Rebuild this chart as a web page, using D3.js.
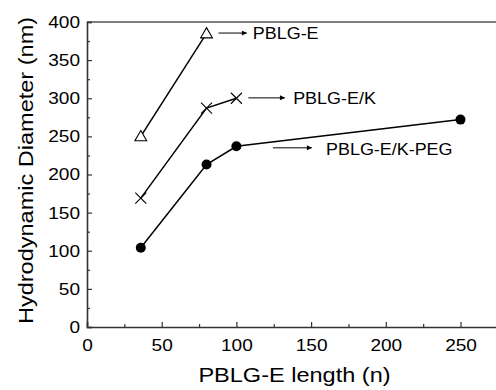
<!DOCTYPE html>
<html><head><meta charset="utf-8">
<script src="https://cdn.jsdelivr.net/npm/d3@7"></script>
<style>
html,body{margin:0;padding:0;background:#fff;}
text{font-family:"Liberation Sans",Arial,Helvetica,sans-serif;fill:#000;}
</style></head>
<body><svg id="c" width="496" height="390"></svg>
<script>
// Data
const xTicks = [0, 50, 100, 150, 200, 250];
const yTicks = [0, 50, 100, 150, 200, 250, 300, 350, 400];
const seriesNames = ["PBLG-E", "PBLG-E/K", "PBLG-E/K-PEG"];
const xE = [36, 80];
const yE = [250, 385];
const xEK = [36, 80, 100];
const yEK = [169, 287, 300];
const xEKP = [36, 80, 100, 250];
const yEKP = [104, 213, 237, 272];
// annotation arrows (data coords): x from, x to, y ; label x
const arrowX0 = [88, 108, 124.5];
const arrowX1 = [107, 132.5, 150.5];
const arrowY = [385.5, 300.5, 235];
const labelX = [111, 138, 160];
const labelY = [385.5, 300.5, 232.5];

const svg = d3.select("#c");
const x = d3.scaleLinear().domain([0, 280]).range([87, 87 + 280 * 1.494]);
const y = d3.scaleLinear().domain([0, 400]).range([327, 22]);
const STRETCH = 1.12;
function widen(sel) {
  sel.each(function () {
    const w = this.getComputedTextLength();
    d3.select(this).attr("textLength", w * STRETCH).attr("lengthAdjust", "spacingAndGlyphs");
  });
}

const axisColor = "#333";
svg.append("line").attr("x1", x(0)).attr("x2", 496).attr("y1", y(400)).attr("y2", y(400))
  .attr("stroke", "#555").attr("stroke-width", 1.6);

// x axis
const xAxis = svg.append("g").attr("transform", `translate(0,${y(0)})`)
  .call(d3.axisBottom(x).tickValues(xTicks).tickSize(-5).tickPadding(12).tickFormat(d3.format("d")));
xAxis.select(".domain").attr("stroke", axisColor).attr("stroke-width", 1.6);
xAxis.selectAll(".tick line").attr("stroke", axisColor).attr("stroke-width", 1.2);
xAxis.selectAll(".tick text").attr("font-size", 17).attr("font-family", null).attr("dy", "0.71em").call(widen);
svg.append("g").attr("transform", `translate(0,${y(0)})`)
  .call(d3.axisBottom(x).tickValues([25, 75, 125, 175, 225, 275]).tickSize(-3).tickFormat(""))
  .call(g => { g.select(".domain").remove(); g.selectAll(".tick line").attr("stroke", axisColor).attr("stroke-width", 1.2); });

// y axis
const yAxis = svg.append("g").attr("transform", `translate(${x(0)},0)`)
  .call(d3.axisLeft(y).tickValues(yTicks).tickSize(-5).tickPadding(7).tickFormat(d3.format("d")));
yAxis.select(".domain").attr("stroke", axisColor).attr("stroke-width", 1.6);
yAxis.selectAll(".tick line").attr("stroke", axisColor).attr("stroke-width", 1.2);
yAxis.selectAll(".tick text").attr("font-size", 17).attr("font-family", null).call(widen);
svg.append("g").attr("transform", `translate(${x(0)},0)`)
  .call(d3.axisLeft(y).tickValues([25, 75, 125, 175, 225, 275, 325, 375]).tickSize(-3).tickFormat(""))
  .call(g => { g.select(".domain").remove(); g.selectAll(".tick line").attr("stroke", axisColor).attr("stroke-width", 1.2); });

// axis titles
svg.append("text").attr("x", (x(0) + 496) / 2 + 3).attr("y", 382)
  .attr("text-anchor", "middle").attr("font-size", 21)
  .text("PBLG-E length (n)").call(widen);
svg.append("text").attr("transform", `translate(33,${(y(0) + y(400)) / 2 - 4}) rotate(-90)`)
  .attr("text-anchor", "middle").attr("font-size", 21)
  .text("Hydrodynamic Diameter (nm)").call(widen);

const line = d3.line().x(d => x(d[0])).y(d => y(d[1]));
const sE = xE.map((v, i) => [v, yE[i]]);
const sEK = xEK.map((v, i) => [v, yEK[i]]);
const sEKP = xEKP.map((v, i) => [v, yEKP[i]]);
[sE, sEK, sEKP].forEach(s => {
  svg.append("path").attr("d", line(s)).attr("fill", "none").attr("stroke", "#000").attr("stroke-width", 1.5);
});

// markers
const tri = d3.symbol().type(d3.symbolTriangle).size(60);
svg.selectAll(".tri").data(sE).join("path")
  .attr("transform", d => `translate(${x(d[0])},${y(d[1]) + 1})`)
  .attr("d", tri()).attr("fill", "#fff").attr("stroke", "#000").attr("stroke-width", 1.1);
svg.selectAll(".crs").data(sEK).join("path")
  .attr("d", d => { const cx = x(d[0]), cy = y(d[1]), r = 5.5; return `M${cx - r},${cy - r}L${cx + r},${cy + r}M${cx - r},${cy + r}L${cx + r},${cy - r}`; })
  .attr("stroke", "#000").attr("stroke-width", 1.1).attr("fill", "none");
svg.selectAll(".dot").data(sEKP).join("circle")
  .attr("cx", d => x(d[0])).attr("cy", d => y(d[1])).attr("r", 5).attr("fill", "#000");

// arrows
svg.append("defs").append("marker").attr("id", "ah").attr("viewBox", "0 0 10 10")
  .attr("refX", 10).attr("refY", 5).attr("markerWidth", 8).attr("markerHeight", 5)
  .attr("markerUnits", "userSpaceOnUse").attr("orient", "auto")
  .append("path").attr("d", "M0,0L10,5L0,10Z").attr("fill", "#000");
arrowX0.forEach((v, i) => {
  svg.append("line").attr("x1", x(v)).attr("x2", x(arrowX1[i])).attr("y1", y(arrowY[i])).attr("y2", y(arrowY[i]))
    .attr("stroke", "#000").attr("stroke-width", 1).attr("marker-end", "url(#ah)");
  svg.append("text").attr("x", x(labelX[i])).attr("y", y(labelY[i])).attr("dy", "0.36em")
    .attr("font-size", 16).text(seriesNames[i]).call(widen);
});
</script></body></html>
